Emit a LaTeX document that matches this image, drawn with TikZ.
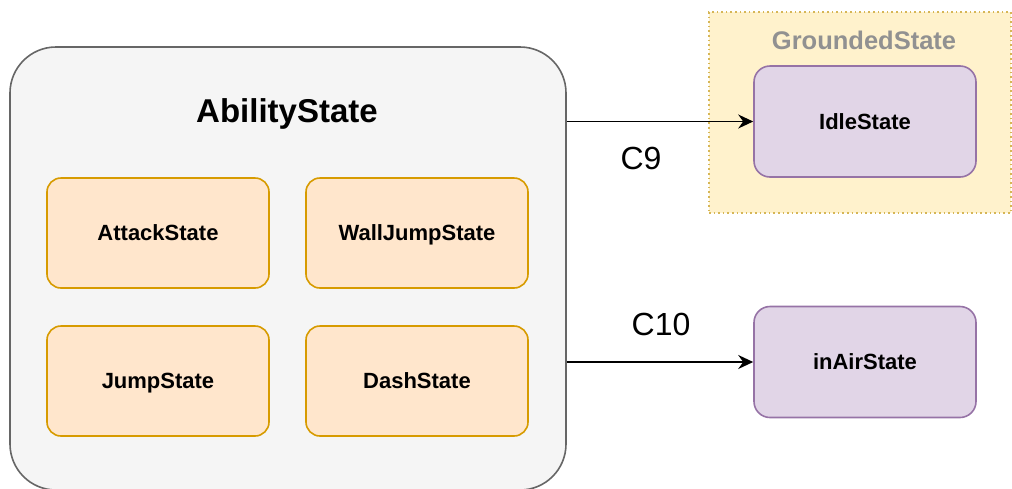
\documentclass[tikz,border=0pt]{standalone}
\usepackage{fontspec}
\setmainfont{Liberation Sans}
\usetikzlibrary{arrows.meta, positioning}
\definecolor{abilityFill}{HTML}{F5F5F5}
\definecolor{abilityLine}{HTML}{666666}
\definecolor{stateFill}{HTML}{FFE6CC}
\definecolor{stateLine}{HTML}{D79B00}
\definecolor{groundFill}{HTML}{FFF2CC}
\definecolor{groundLine}{HTML}{D6B656}
\definecolor{groundText}{HTML}{919191}
\definecolor{targetFill}{HTML}{E1D5E7}
\definecolor{targetLine}{HTML}{9673A6}

\begin{document}
\begin{tikzpicture}[x=1pt, y=-1pt, >={Stealth[length=15pt, width=14pt, inset=5pt]},
    every node/.style={font=\fontsize{22}{26}\selectfont\bfseries, text height=15.8pt, text depth=0pt},
    substate/.style={draw=stateLine, fill=stateFill, line width=1.6pt, rounded corners=14pt,
      minimum width=222pt, minimum height=110pt, inner sep=0pt},
    target/.style={draw=targetLine, fill=targetFill, line width=1.6pt, rounded corners=16pt,
      minimum width=222pt, minimum height=111pt, inner sep=0pt},
    cond/.style={font=\fontsize{32}{36}\selectfont, text height=23pt}]
        \useasboundingbox (0,0) rectangle (1012,488);
        % grounded group
        \node[draw=groundLine, fill=groundFill, line width=1.6pt, dash pattern=on 1.6pt off 3pt,
          minimum width=302pt, minimum height=201pt, inner sep=0pt] (grounded) at (860,112.5) {};
        \node[text=groundText, font=\fontsize{25.5}{30}\selectfont\bfseries, text height=18.3pt] (groundedlbl) at (864,40) {GroundedState};
        \node[target] (idle) at (865,121.5) {IdleState};
        \node[target] (inair) at (865,362) {inAirState};
        % ability group
        \node[draw=abilityLine, fill=abilityFill, line width=1.6pt, rounded corners=46pt,
          minimum width=556pt, minimum height=443pt, inner sep=0pt] (ability) at (288,268.5) {};
        \node[font=\fontsize{33}{38}\selectfont\bfseries, text height=23.6pt] (abilitylbl) at (287,111) {AbilityState};
        \node[substate] (attack) at (158,233) {AttackState};
        \node[substate] (walljump) at (417,233) {WallJumpState};
        \node[substate] (jump) at (158,381) {JumpState};
        \node[substate] (dash) at (417,381) {DashState};
        % transitions
        \draw[->, line width=1.7pt] (ability.east |- idle.west) -- (idle.west);
        \draw[->, line width=1.7pt] (ability.east |- inair.west) -- (inair.west);
        \node[cond] (cnine) at (641,158) {C9};
        \node[cond] (cten) at (661,324) {C10};
      \end{tikzpicture}
\end{document}
